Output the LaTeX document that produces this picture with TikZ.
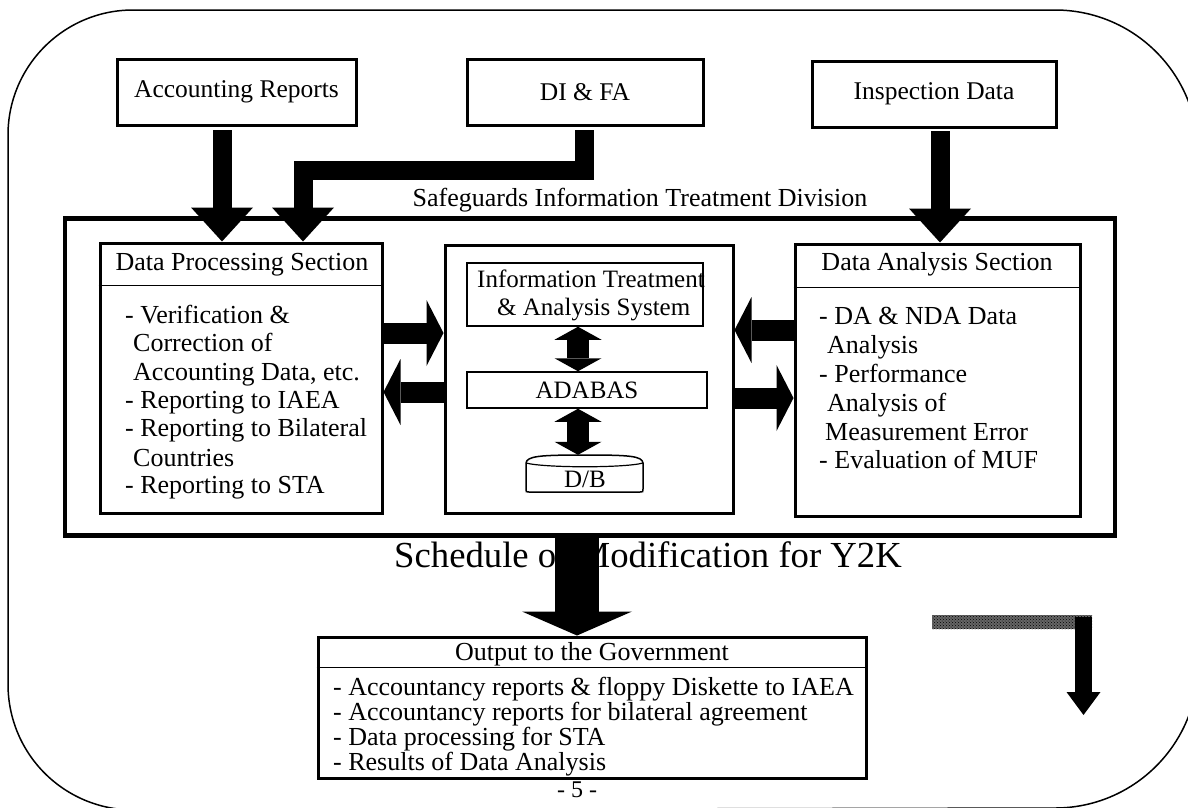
\documentclass[tikz,border=0pt]{standalone}
\usepackage{fontspec}
\setmainfont{Liberation Serif}
\usetikzlibrary{arrows.meta,patterns}
\tikzset{
  txt/.style={inner sep=0pt, font=\fontsize{26}{28}\selectfont},
  ltxt/.style={txt, anchor=base west},
  box/.style={draw, line width=3pt, fill=white, inner sep=0pt, font=\fontsize{25.5}{28}\selectfont},
  thinbox/.style={draw, line width=1.5pt, fill=white, inner sep=0pt, font=\fontsize{25}{28}\selectfont},
  sepline/.style={line width=1.5pt},
  blkarrow/.style={line width=19pt, -{Triangle[width=62pt,length=34pt,line width=0pt]}},
  harrow/.style={line width=21pt, -{Triangle[width=66pt,length=17pt,line width=0pt]}},
  varrow/.style={line width=22pt, {Triangle[width=47pt,length=13pt,line width=0pt]}-{Triangle[width=47pt,length=13pt,line width=0pt]}},
}
\begin{document}
\begin{tikzpicture}[x=1pt,y=-1pt]
\useasboundingbox (0,0) rectangle (1188,807);
% outer rounded frame
\draw[line width=1.5pt] (133,10) -- (1055,10) .. controls (1134,10) and (1198,74) .. (1198,153) -- (1198,665) .. controls (1198,744) and (1134,808) .. (1055,808) -- (134,810) .. controls (64,810) and (8,754) .. (8,684) -- (8,135) .. controls (8,66) and (64,10) .. (133,10) -- cycle;

% title text partly covered
\node[inner sep=0pt, anchor=base, font=\fontsize{36.7}{40}\selectfont] (sched) at (648,567) {Schedule of Modification for Y2K};

% top source boxes
\node[box, minimum width=239pt, minimum height=66pt] (acc) at (236.5,92) {Accounting Reports};
\node[box, minimum width=236pt, minimum height=66pt] (difa) at (585,92) {DI \& FA};
\node[box, minimum width=244pt, minimum height=66pt] (insp) at (934,94) {Inspection Data};

% division
\node[txt] (divlabel) at (640,200) {Safeguards Information Treatment Division};
\node[draw, line width=4.5pt, minimum width=1050pt, minimum height=317pt, inner sep=0pt] (div) at (590,377) {};

% data processing section
\node[box, minimum width=282pt, minimum height=270pt] (dps) at (241,378) {};
\draw[sepline] ([yshift=-44pt]dps.north west) -- ([yshift=-44pt]dps.north east);
\node[txt] (dpsT) at (242,265) {Data Processing Section};
\node[ltxt] (dp1) at (125,323) {- Verification \&};
\node[ltxt] (dp2) at (133,351) {Correction of};
\node[ltxt] (dp3) at (133,380) {Accounting Data, etc.};
\node[ltxt] (dp4) at (125,408) {- Reporting to IAEA};
\node[ltxt] (dp5) at (125,436) {- Reporting to Bilateral};
\node[ltxt] (dp6) at (133,466) {Countries};
\node[ltxt] (dp7) at (125,493) {- Reporting to STA};

% center system
\node[box, minimum width=288pt, minimum height=268pt] (cen) at (589,379) {};
\node[thinbox, minimum width=236pt, minimum height=63pt] (its) at (585,294.5) {};
\node[ltxt, font=\fontsize{25}{28}\selectfont] (its1) at (477,287) {Information Treatment};
\node[ltxt, font=\fontsize{25}{28}\selectfont] (its2) at (497,315) {\& Analysis System};
\node[thinbox, minimum width=240pt, minimum height=36pt] (adabas) at (587,390) {ADABAS};
\draw[line width=1.5pt, fill=white] (526,463) .. controls (527,456) and (540,455) .. (585,455) .. controls (630,455) and (642,456) .. (643,463) -- (643,489) .. controls (643,492) .. (640,492) -- (529,492) .. controls (526,492) .. (526,489) -- cycle;
\draw[line width=1.2pt] (526,463) .. controls (545,468) and (625,468) .. (643,463);
\node[txt, minimum width=117pt, minimum height=37pt] (db) at (584.5,473.5) {};
\node[txt, font=\fontsize{25}{28}\selectfont] (dbT) at (585,479) {D/B};

% data analysis section
\node[box, minimum width=285pt, minimum height=272pt] (das) at (937.5,380) {};
\draw[sepline] ([yshift=-45pt]das.north west) -- ([yshift=-45pt]das.north east);
\node[txt] (dasT) at (937,264) {Data Analysis Section};
\node[ltxt] (da1) at (819,324) {- DA \& NDA Data};
\node[ltxt] (da2) at (827,353) {Analysis};
\node[ltxt] (da3) at (819,382) {- Performance};
\node[ltxt] (da4) at (827,411) {Analysis of};
\node[ltxt] (da5) at (825,440) {Measurement Error};
\node[ltxt] (da6) at (819,468) {- Evaluation of MUF};

% output box
\node[box, minimum width=548pt, minimum height=141pt] (out) at (592,707.5) {};
\draw[sepline] ([yshift=-32pt]out.north west) -- ([yshift=-32pt]out.north east);
\node[txt] (outT) at (592,654) {Output to the Government};
\node[ltxt] (o1) at (333,695) {- Accountancy reports \& floppy Diskette to IAEA};
\node[ltxt] (o2) at (333,720) {- Accountancy reports for bilateral agreement};
\node[ltxt] (o3) at (333,745) {- Data processing for STA};
\node[ltxt] (o4) at (333,770) {- Results of Data Analysis};
\node[txt, font=\fontsize{24}{28}\selectfont] (page) at (577,790) {- 5 -};

% helper coordinates
\coordinate (accS) at (222,130);
\coordinate (difaS) at (584,130);
\coordinate (bend) at (0,170.5);
\coordinate (x303) at (303,0);
\coordinate (inspS) at (940,131);
\coordinate (hA) at (0,333);
\coordinate (hB) at (0,392);
\coordinate (hC) at (0,330);
\coordinate (hD) at (0,398);
\coordinate (vx) at (578,0);
\coordinate (ox) at (577,0);

% input arrows
\draw[blkarrow] (accS) -- (accS |- dps.north);
\draw[blkarrow] (difaS) -- (difaS |- bend) -| (dps.north -| x303);
\draw[blkarrow] (inspS) -- (inspS |- das.north);

% section <-> system arrows
\draw[harrow] (dps.east |- hA) -- (cen.west |- hA);
\draw[harrow] (cen.west |- hB) -- (dps.east |- hB);
\draw[harrow] (das.west |- hC) -- (cen.east |- hC);
\draw[harrow] (cen.east |- hD) -- (das.west |- hD);

% internal double arrows
\draw[varrow] (its.south -| vx) -- (adabas.north -| vx);
\draw[varrow] (adabas.south -| vx) -- (db.north -| vx);

% output arrow
\draw[line width=44pt, -{Triangle[width=110pt,length=24pt,line width=0pt]}] (div.south -| ox) -- (out.north -| ox);

% hatched bend arrow
\fill[black!60] (932,615) rectangle (1092,629);
\fill[pattern=crosshatch dots, pattern color=black] (932,615) rectangle (1092,629);
\coordinate (hbS) at (1083.5,617);
\coordinate (hbE) at (1083.5,715);
\draw[line width=17pt, -{Triangle[width=34pt,length=23pt,line width=0pt]}] (hbS) -- (hbE);
\end{tikzpicture}
\end{document}
